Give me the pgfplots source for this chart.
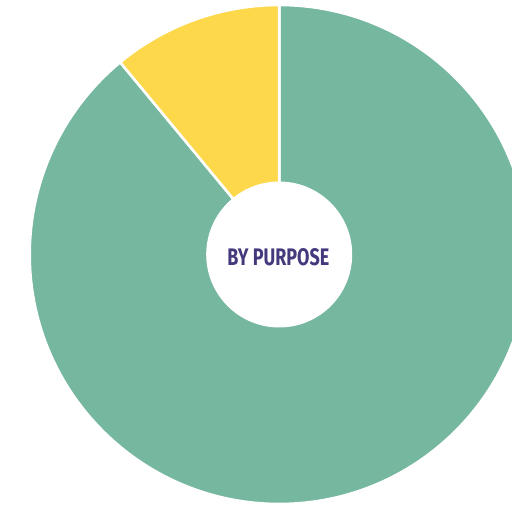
\documentclass[border=0pt]{standalone}
\usepackage{pgfplots}
\pgfplotsset{compat=1.18}
\usepackage{pgfplotstable}
\usepackage{fontspec}
\setmainfont{Fira Sans}

\definecolor{pgreen}{HTML}{75B79F}
\definecolor{pyellow}{HTML}{FED84B}
\definecolor{ptext}{HTML}{45397D}

% share of each purpose, in percent
\pgfplotstableread{
label value colour
Other 89 pgreen
Purpose 11 pyellow
}\piedata

\begin{document}
\begin{tikzpicture}
\begin{axis}[
    scale only axis,
    width=512pt, height=505pt,
    xmin=-279.2, xmax=232.8,
    ymin=-250.5, ymax=254.5,
    hide axis,
    clip=true,
]
\pgfplotstablegetrowsof{\piedata}
\pgfmathtruncatemacro\nrows{\pgfplotsretval-1}
\def\startangle{90}
\pgfplotsforeachungrouped \i in {0,...,\nrows}{%
    \pgfplotstablegetelem{\i}{value}\of\piedata
    \let\val\pgfplotsretval
    \pgfplotstablegetelem{\i}{colour}\of\piedata
    \let\col\pgfplotsretval
    \pgfmathsetmacro\endangle{\startangle-3.6*\val}
    \edef\wedge{\noexpand\filldraw[fill=\col, draw=white, line width=2.6pt, line join=round]
        (0,0) -- ({249.5*cos(\startangle)},{249.5*sin(\startangle)})
        arc[start angle=\startangle, end angle=\endangle, radius=249.5pt] -- cycle;}
    \wedge
    \global\let\startangle\endangle
}
\fill[white] (0,0) circle[radius=73pt];
\node[text=ptext, inner sep=0pt] at (-0.9,-3)
    {\resizebox{102pt}{17pt}{\bfseries BY PURPOSE}};
\end{axis}
\pgfresetboundingbox
\useasboundingbox (current axis.south west) rectangle (current axis.north east);
\end{tikzpicture}
\end{document}
